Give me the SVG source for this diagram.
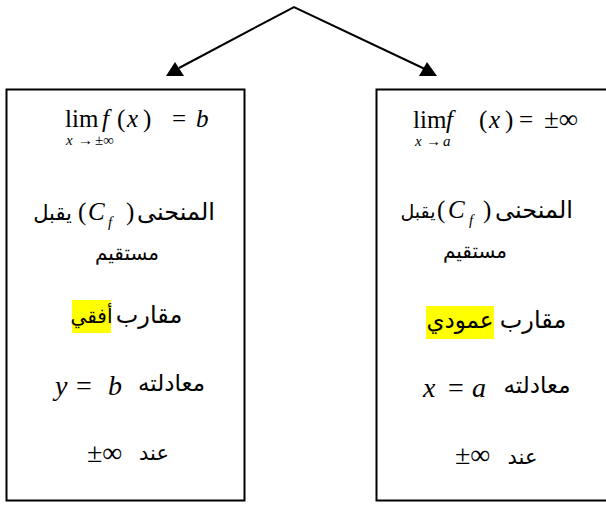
<svg xmlns="http://www.w3.org/2000/svg" width="606" height="505" viewBox="0 0 606 505">
<style>
.box{fill:#fff;stroke:#000;stroke-width:2}
.ln{stroke:#000;stroke-width:2;fill:none}
.ah{fill:#000}
.m{font-family:"Liberation Serif",serif;font-size:25px;fill:#000}
.mi{font-family:"Liberation Serif",serif;font-size:25px;font-style:italic;fill:#000}
.big{font-size:28px}
.s{font-family:"Liberation Serif",serif;font-size:15px;fill:#000}
.si{font-family:"Liberation Serif",serif;font-size:15px;font-style:italic;fill:#000}
.ar{font-family:"DejaVu Sans","Noto Sans",sans-serif;font-size:23px;fill:#000;text-anchor:middle}
.hl{fill:#ffff00}
</style>
<g id="connectors">
<polyline class="ln" points="179,68 294,7 427,70"/>
<polygon class="ah" points="175,62 166,76 184,76"/>
<polygon class="ah" points="427,62 419,76 437,76"/>
</g>
<g id="left">
<rect class="box" x="6.5" y="89.5" width="238" height="411"/>
<text class="m" x="65" y="127">lim</text>
<text class="mi" x="102" y="127">f</text>
<text class="m" x="117" y="127">(</text>
<text class="mi" x="127" y="127">x</text>
<text class="m" x="143" y="127">)</text>
<text class="m" x="172" y="127">=</text>
<text class="mi" x="196" y="127">b</text>
<text class="si" x="66" y="145">x</text>
<text class="s" x="78" y="145">→</text>
<text class="s" x="95" y="145">±∞</text>
<text class="ar" x="52.5" y="220" style="font-size:21px">يقبل</text>
<text class="m" x="78" y="220">(</text>
<text class="mi" x="88" y="220">C</text>
<text class="si" x="108" y="227">f</text>
<text class="m" x="126" y="220">)</text>
<text class="ar" x="176" y="220" style="font-size:24px">المنحنى</text>
<text class="ar" x="127" y="260" style="font-size:20px">مستقيم</text>
<rect class="hl" x="72" y="300" width="39" height="33"/>
<text class="ar" x="149" y="323" style="font-size:24px">مقارب</text>
<text class="ar" x="91.5" y="323" style="font-size:20px">أفقي</text>
<text class="mi big" x="55" y="395">y</text>
<text class="m big" x="76" y="395">=</text>
<text class="mi big" x="108" y="395">b</text>
<text class="ar" x="171.5" y="391" style="font-size:23px">معادلته</text>
<text class="m big" x="87" y="462">±∞</text>
<text class="ar" x="154" y="460" style="font-size:21px">عند</text>
</g>
<g id="right">
<rect class="box" x="376.5" y="89.5" width="240" height="411"/>
<text class="m" x="413" y="128">lim</text>
<text class="mi" x="446" y="128">f</text>
<text class="m" x="479" y="128">(</text>
<text class="mi" x="489" y="128">x</text>
<text class="m" x="505" y="128">)</text>
<text class="m" x="519" y="128">=</text>
<text class="m" x="544" y="128" style="font-size:27px">±∞</text>
<text class="si" x="415" y="146">x</text>
<text class="s" x="426" y="146">→</text>
<text class="si" x="443" y="146">a</text>
<text class="ar" x="418" y="218" style="font-size:19px">يقبل</text>
<text class="m" x="437" y="218">(</text>
<text class="mi" x="448" y="218">C</text>
<text class="si" x="469" y="225">f</text>
<text class="m" x="483" y="218">)</text>
<text class="ar" x="534" y="218" style="font-size:24px">المنحنى</text>
<text class="ar" x="475" y="258" style="font-size:20px">مستقيم</text>
<rect class="hl" x="426" y="306" width="68" height="33"/>
<text class="ar" x="533" y="328" style="font-size:24px">مقارب</text>
<text class="ar" x="460" y="328" style="font-size:23px">عمودي</text>
<text class="mi big" x="423" y="397">x</text>
<text class="m big" x="448" y="397">=</text>
<text class="mi big" x="472" y="397">a</text>
<text class="ar" x="537" y="393" style="font-size:23px">معادلته</text>
<text class="m big" x="455" y="464">±∞</text>
<text class="ar" x="522.5" y="464" style="font-size:21px">عند</text>
</g>
</svg>
